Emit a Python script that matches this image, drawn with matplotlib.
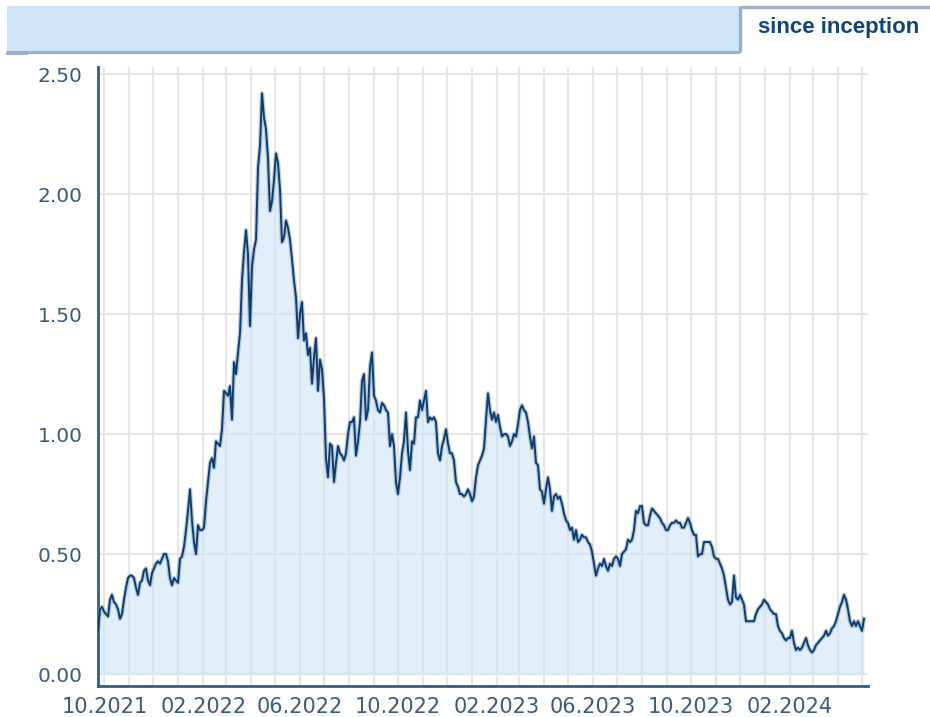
import numpy as np
import pandas as pd
import matplotlib
matplotlib.use("Agg")
import matplotlib.pyplot as plt
import matplotlib.dates as mdates
from matplotlib.patches import Rectangle

# Fund price since inception, sampled every ~2.5 days
start_date = "2021-09-23"
end_date = "2024-05-03"
nav = [
    0.18, 0.27, 0.28, 0.26, 0.25, 0.24, 0.31, 0.33, 0.30, 0.29, 0.27, 0.23, 0.25, 0.31, 0.36, 0.40,
    0.41, 0.41, 0.40, 0.36, 0.33, 0.38, 0.39, 0.43, 0.44, 0.39, 0.37, 0.42, 0.44, 0.46, 0.47, 0.46,
    0.48, 0.50, 0.50, 0.47, 0.40, 0.37, 0.40, 0.39, 0.38, 0.48, 0.49, 0.53, 0.60, 0.68, 0.77, 0.64,
    0.55, 0.50, 0.62, 0.60, 0.60, 0.61, 0.72, 0.80, 0.88, 0.90, 0.86, 0.97, 0.96, 0.95, 1.02, 1.18,
    1.17, 1.16, 1.20, 1.06, 1.30, 1.25, 1.34, 1.42, 1.64, 1.76, 1.85, 1.75, 1.45, 1.70, 1.77, 1.81,
    2.11, 2.20, 2.42, 2.32, 2.27, 2.15, 1.93, 1.97, 2.06, 2.17, 2.13, 2.02, 1.80, 1.82, 1.89, 1.86,
    1.81, 1.73, 1.64, 1.57, 1.40, 1.50, 1.55, 1.39, 1.42, 1.33, 1.36, 1.21, 1.32, 1.40, 1.18, 1.31,
    1.27, 1.15, 0.90, 0.82, 0.96, 0.95, 0.80, 0.88, 0.95, 0.92, 0.91, 0.89, 0.92, 1.00, 1.05, 1.05,
    1.07, 0.91, 0.97, 1.05, 1.22, 1.25, 1.06, 1.10, 1.28, 1.34, 1.16, 1.14, 1.10, 1.09, 1.13, 1.12,
    1.10, 1.09, 0.95, 1.00, 0.95, 0.80, 0.75, 0.82, 0.92, 0.97, 1.09, 0.93, 0.85, 0.97, 0.96, 1.07,
    1.07, 1.14, 1.10, 1.14, 1.18, 1.05, 1.07, 1.06, 1.07, 1.05, 0.92, 0.89, 0.95, 0.98, 1.02, 0.96,
    0.92, 0.92, 0.89, 0.80, 0.78, 0.75, 0.75, 0.74, 0.75, 0.77, 0.75, 0.72, 0.74, 0.82, 0.87, 0.89,
    0.91, 0.94, 1.06, 1.17, 1.10, 1.06, 1.09, 1.05, 1.08, 1.03, 0.99, 1.00, 1.00, 0.99, 0.95, 0.97,
    1.00, 0.99, 1.04, 1.10, 1.12, 1.10, 1.09, 1.05, 0.99, 0.94, 0.99, 0.88, 0.87, 0.77, 0.76, 0.71,
    0.77, 0.82, 0.77, 0.68, 0.74, 0.75, 0.73, 0.74, 0.71, 0.67, 0.64, 0.63, 0.60, 0.61, 0.56, 0.60,
    0.55, 0.56, 0.58, 0.57, 0.57, 0.55, 0.54, 0.51, 0.46, 0.41, 0.44, 0.46, 0.45, 0.48, 0.45, 0.43,
    0.46, 0.45, 0.48, 0.49, 0.48, 0.45, 0.50, 0.51, 0.52, 0.56, 0.55, 0.56, 0.60, 0.68, 0.67, 0.70,
    0.70, 0.63, 0.62, 0.62, 0.66, 0.69, 0.68, 0.67, 0.66, 0.65, 0.63, 0.62, 0.60, 0.60, 0.62, 0.63,
    0.63, 0.64, 0.63, 0.63, 0.61, 0.61, 0.63, 0.65, 0.63, 0.60, 0.58, 0.58, 0.49, 0.50, 0.50, 0.55,
    0.55, 0.55, 0.55, 0.53, 0.49, 0.48, 0.48, 0.46, 0.44, 0.41, 0.36, 0.31, 0.29, 0.30, 0.41, 0.32,
    0.31, 0.33, 0.31, 0.29, 0.22, 0.22, 0.22, 0.22, 0.22, 0.25, 0.27, 0.28, 0.29, 0.31, 0.30, 0.29,
    0.27, 0.26, 0.25, 0.25, 0.20, 0.18, 0.17, 0.15, 0.14, 0.15, 0.15, 0.18, 0.13, 0.10, 0.11, 0.10,
    0.11, 0.13, 0.15, 0.12, 0.10, 0.09, 0.10, 0.12, 0.13, 0.14, 0.15, 0.16, 0.18, 0.16, 0.17, 0.19,
    0.20, 0.22, 0.25, 0.28, 0.30, 0.33, 0.31, 0.27, 0.22, 0.20, 0.22, 0.20, 0.22, 0.20, 0.18, 0.23,
]
y_ticks = [0.0, 0.5, 1.0, 1.5, 2.0, 2.5]
tab_label = "since inception"

dates = pd.date_range(start_date, end_date, periods=len(nav))

W, H = 930, 717
fig = plt.figure(figsize=(W / 100, H / 100), dpi=100)

# header strip with the period tab, drawn in pixel coordinates
bg = fig.add_axes([0, 0, 1, 1])
bg.set_xlim(0, W)
bg.set_ylim(H, 0)
bg.axis("off")
bg.add_patch(Rectangle((7, 6), 732, 46, facecolor="#cee5f8", edgecolor="none"))
bg.plot([6, 740], [52, 52], color="#9aafc5", lw=2.2, solid_capstyle="butt")
bg.plot([6, 28], [53.5, 53.5], color="#9aafc5", lw=1.5, solid_capstyle="butt")
bg.plot([739.5, 739.5], [52, 6], color="#9aafc5", lw=2.4, solid_capstyle="butt")
bg.plot([739.5, 930], [6.5, 6.5], color="#9aafc5", lw=2.4, solid_capstyle="butt")
bg.text(839, 28, tab_label, ha="center", va="center", fontsize=16,
        fontweight="bold", color="#0f4679", family="Liberation Sans")

ax = fig.add_axes([98 / W, 31 / H, (868 - 98) / W, (686 - 67) / H])
ax.set_xlim(pd.Timestamp("2021-09-23"), pd.Timestamp("2024-05-08"))
ax.set_ylim(-0.05, 2.53)

ax.fill_between(dates, 0, nav, color="#cfe3f5", alpha=0.6, lw=0, zorder=2)
ax.plot(dates, nav, color="#6f95bd", lw=3.2, alpha=0.45, zorder=3)
ax.plot(dates, nav, color="#0e3c6b", lw=1.4, zorder=4)

# monthly grid, labels every four months
ax.xaxis.set_major_locator(mdates.MonthLocator(bymonth=[2, 6, 10]))
ax.xaxis.set_major_formatter(mdates.DateFormatter("%m.%Y"))
ax.xaxis.set_minor_locator(mdates.MonthLocator())
ax.set_yticks(y_ticks)
ax.set_yticklabels([f"{v:.2f}" for v in y_ticks])

ax.grid(True, which="both", axis="x", color="#e6e6e6", lw=1.6, zorder=0)
ax.grid(True, which="major", axis="y", color="#e6e6e6", lw=1.6, zorder=0)
ax.set_axisbelow(True)

for side in ("top", "right"):
    ax.spines[side].set_visible(False)
for side in ("left", "bottom"):
    ax.spines[side].set_color("#2e5f8a")
    ax.spines[side].set_linewidth(2.0)

ax.tick_params(axis="both", which="both", length=0, labelcolor="#3b5c7d")
ax.tick_params(axis="y", pad=11, labelsize=14.5)
ax.tick_params(axis="x", pad=8, labelsize=15)

fig.savefig("out.png", dpi=100)
